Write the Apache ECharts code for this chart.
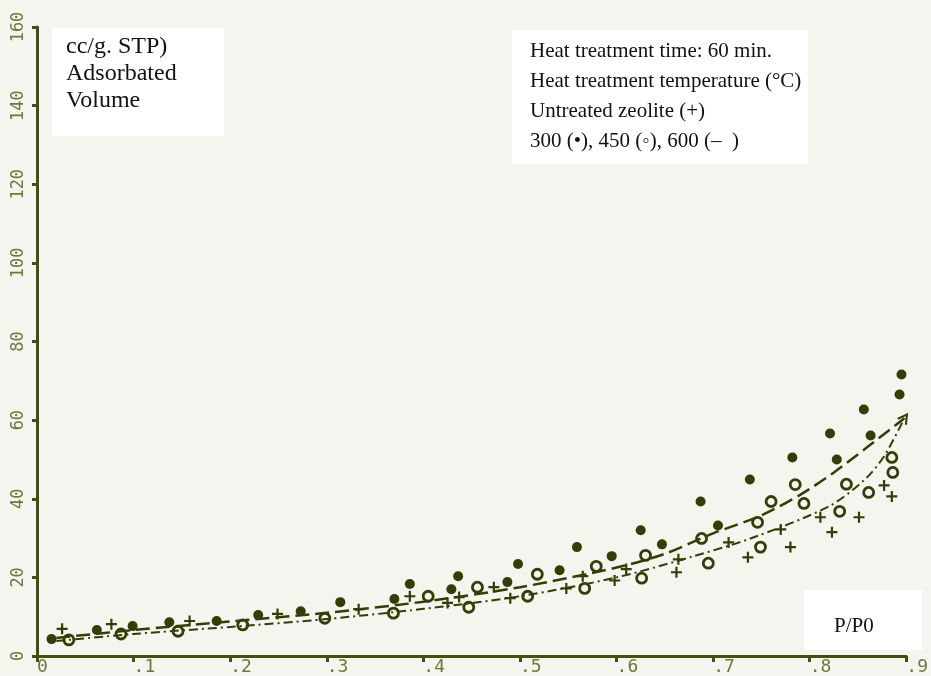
<!DOCTYPE html>
<html>
<head>
<meta charset="utf-8">
<script src="https://cdn.jsdelivr.net/npm/echarts@6/dist/echarts.min.js"></script>
<style>
  html, body { margin: 0; padding: 0; background: #f6f4ef; }
  #main { width: 931px; height: 676px; }
</style>
</head>
<body>
<div id="main"></div>
<script>
// tick labels
const xTickLabels = ['0', '.1', '.2', '.3', '.4', '.5', '.6', '.7', '.8', '.9'];
const yTickLabels = ['0', '20', '40', '60', '80', '100', '120', '140', '160'];

// 300 C (filled dots)
const pts300 = [[0.015, 4.3], [0.062, 6.6], [0.099, 7.6], [0.137, 8.6], [0.186, 8.9], [0.229, 10.4], [0.273, 11.4],
  [0.314, 13.7], [0.37, 14.5], [0.386, 18.3], [0.429, 17.0], [0.436, 20.3], [0.487, 18.8], [0.498, 23.4],
  [0.541, 21.8], [0.559, 27.7], [0.595, 25.4], [0.625, 32], [0.647, 28.4], [0.687, 39.3], [0.705, 33.2],
  [0.738, 44.9], [0.782, 50.5], [0.821, 56.6], [0.828, 50], [0.856, 62.7], [0.863, 56.1], [0.893, 66.5], [0.895, 71.6]];
// 450 C (open circles)
const pts450 = [[0.033, 4.1], [0.087, 5.6], [0.146, 6.3], [0.213, 7.9], [0.298, 9.6], [0.369, 10.9], [0.405, 15.2],
  [0.447, 12.4], [0.456, 17.5], [0.508, 15.2], [0.518, 20.8], [0.567, 17.2], [0.579, 22.8], [0.626, 19.8],
  [0.63, 25.6], [0.688, 29.9], [0.695, 23.6], [0.746, 34], [0.749, 27.7], [0.76, 39.3], [0.785, 43.6],
  [0.794, 38.8], [0.831, 36.8], [0.838, 43.7], [0.861, 41.6], [0.885, 50.5], [0.886, 46.7]];
// untreated (+)
const ptsUntreated = [[0.026, 6.9], [0.077, 8.1], [0.158, 8.9], [0.249, 10.7], [0.333, 11.9], [0.386, 15.2],
  [0.425, 13.5], [0.437, 15], [0.473, 17.5], [0.49, 14.7], [0.548, 17.2], [0.565, 20.3], [0.598, 19.2],
  [0.61, 22.1], [0.662, 21.3], [0.664, 24.6], [0.716, 28.9], [0.736, 25.1], [0.77, 32.2], [0.78, 27.7],
  [0.811, 35.3], [0.823, 31.5], [0.851, 35.3], [0.877, 43.4], [0.885, 40.6]];
// hand drawn curves (600 C dashes)
const curveUpper = [[0.02, 4.6], [0.1, 6.6], [0.2, 8.8], [0.3, 11], [0.4, 13.8], [0.5, 17.5], [0.6, 22.5],
  [0.65, 26], [0.7, 31.2], [0.75, 35.8], [0.79, 41], [0.825, 46.7], [0.86, 53.2], [0.898, 60.5]];
const curveLower = [[0.02, 3.8], [0.1, 5.6], [0.2, 7.4], [0.3, 9.4], [0.4, 12], [0.5, 15.2], [0.6, 20],
  [0.68, 25.4], [0.74, 30], [0.82, 38.1], [0.857, 44.9], [0.877, 50.8], [0.898, 60.5]];

const ink = '#323e06';
const axisInk = '#444f12';
const labelInk = '#6e7838';
const paper = '#f6f4ef';

// arrow head on the end of the upper curve
const upperData = curveUpper.map((p, i) => i === curveUpper.length - 1
  ? { value: p, symbol: 'path://M0,10L5,0L10,10', symbolSize: [10, 9], symbolRotate: -35,
      itemStyle: { color: 'none', borderColor: ink, borderWidth: 2 } }
  : { value: p, symbol: 'none' });

const myChart = echarts.init(document.getElementById('main'));

myChart.setOption({
  backgroundColor: paper,
  animation: false,
  grid: { left: 37, right: 16, top: 27, bottom: 19 },
  xAxis: {
    type: 'value',
    min: 0,
    max: 0.9,
    interval: 0.1,
    splitLine: { show: false },
    axisLine: { onZero: false, lineStyle: { color: axisInk, width: 3 } },
    axisTick: { length: 6, lineStyle: { color: axisInk, width: 3 } },
    axisLabel: {
      color: labelInk,
      fontFamily: 'DejaVu Sans Mono',
      fontSize: 18,
      margin: 2,
      align: 'left',
      showMaxLabel: true,
      formatter: v => xTickLabels[Math.round(v * 10)]
    }
  },
  yAxis: {
    type: 'value',
    min: 0,
    max: 160,
    interval: 20,
    splitLine: { show: false },
    axisLine: { lineStyle: { color: axisInk, width: 3 } },
    axisTick: { length: 5, lineStyle: { color: axisInk, width: 3 } },
    axisLabel: {
      color: labelInk,
      fontFamily: 'DejaVu Sans Mono',
      fontSize: 17,
      rotate: 90,
      margin: 10,
      formatter: v => yTickLabels[Math.round(v / 20)]
    }
  },
  graphic: [
    {
      type: 'rect', left: 52, top: 28, shape: { width: 172, height: 108 },
      style: { fill: '#ffffff' }, z: 10
    },
    {
      type: 'text', left: 66, top: 33, z: 11,
      style: { text: 'cc/g. STP)\nAdsorbated\nVolume', fill: '#111', font: '24px "Liberation Serif"', lineHeight: 27 }
    },
    {
      type: 'rect', left: 512, top: 30, shape: { width: 296, height: 134 },
      style: { fill: '#ffffff' }, z: 10
    },
    {
      type: 'text', left: 530, top: 36, z: 11,
      style: {
        text: 'Heat treatment time: 60 min.\nHeat treatment temperature (°C)\nUntreated zeolite (+)\n300 (•), 450 (◦), 600 (–  )',
        fill: '#111', font: '21px "Liberation Serif"', lineHeight: 30
      }
    },
    {
      type: 'rect', left: 804, top: 590, shape: { width: 118, height: 60 },
      style: { fill: '#ffffff' }, z: 10
    },
    {
      type: 'text', left: 834, top: 616, z: 11,
      style: { text: 'P/P0', fill: '#111', font: '21px "Liberation Serif"' }
    }
  ],
  series: [
    {
      name: '600 upper',
      type: 'line',
      smooth: 0.3,
      showSymbol: true,
      lineStyle: { color: ink, width: 2.5, type: [14, 6] },
      data: upperData
    },
    {
      name: '600 lower',
      type: 'line',
      smooth: 0.3,
      symbol: 'none',
      lineStyle: { color: ink, width: 2, type: [9, 4, 2, 4] },
      data: curveLower
    },
    {
      name: '300',
      type: 'scatter',
      symbol: 'circle',
      symbolSize: 10,
      itemStyle: { color: ink, opacity: 1 },
      data: pts300
    },
    {
      name: '450',
      type: 'scatter',
      symbol: 'circle',
      symbolSize: 10,
      itemStyle: { color: paper, borderColor: ink, borderWidth: 2.8, opacity: 1 },
      data: pts450
    },
    {
      name: 'Untreated',
      type: 'scatter',
      symbol: 'path://M4,0h2v4h4v2h-4v4h-2v-4h-4v-2h4z',
      symbolSize: 11,
      itemStyle: { color: ink, opacity: 1 },
      data: ptsUntreated
    }
  ]
});
</script>
</body>
</html>
